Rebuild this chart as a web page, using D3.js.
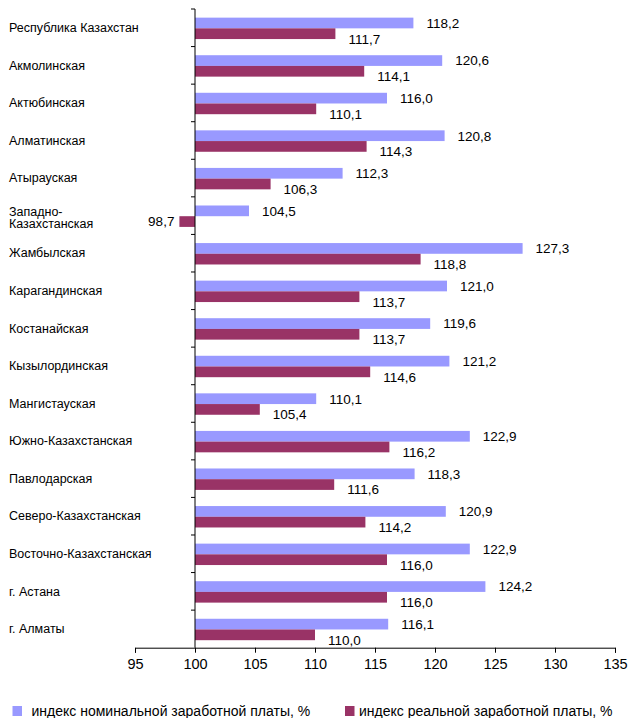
<!DOCTYPE html>
<html>
<head>
<meta charset="utf-8">
<script src="https://cdn.jsdelivr.net/npm/d3@7"></script>
<style>
  html, body { margin: 0; padding: 0; background: #fff; }
  svg { display: block; font-family: "Liberation Sans", Arial, sans-serif; }
</style>
</head>
<body>
<svg id="chart" width="636" height="718"></svg>
<script>
const categories = [
  "Республика Казахстан", "Акмолинская", "Актюбинская", "Алматинская", "Атырауская",
  "Западно-\nКазахстанская", "Жамбылская", "Карагандинская", "Костанайская",
  "Кызылординская", "Мангистауская", "Южно-Казахстанская", "Павлодарская",
  "Северо-Казахстанская", "Восточно-Казахстанская", "г. Астана", "г. Алматы"
];
const nominal = [118.2, 120.6, 116.0, 120.8, 112.3, 104.5, 127.3, 121.0, 119.6, 121.2, 110.1, 122.9, 118.3, 120.9, 122.9, 124.2, 116.1];
const real    = [111.7, 114.1, 110.1, 114.3, 106.3, 98.7, 118.8, 113.7, 113.7, 114.6, 105.4, 116.2, 111.6, 114.2, 116.0, 116.0, 110.0];
const seriesNames = ["индекс номинальной заработной платы, %", "индекс реальной заработной платы, %"];
const seriesColors = ["#9999FF", "#993366"];
const xTicks = [95, 100, 105, 110, 115, 120, 125, 130, 135];
const xDomain = [95, 135];
const baseValue = 100;

const svg = d3.select("#chart");
const x = d3.scaleLinear().domain(xDomain).range([135, 615]);
const y = d3.scaleBand().domain(categories.map((d, i) => i)).range([9, 647.7]).padding(0);
const sub = d3.scaleBand().domain([0, 1]).range([y.bandwidth() * 0.23, y.bandwidth() * 0.80]).padding(0);

const fmt = v => v.toFixed(1).replace(".", ",");
const data = categories.map((c, i) => ({ c, i, vals: [nominal[i], real[i]] }));

// bars
const g = svg.append("g");
data.forEach(d => {
  d.vals.forEach((v, s) => {
    const y0 = y(d.i) + sub(s);
    g.append("rect")
      .attr("x", x(Math.min(v, baseValue)))
      .attr("y", y0)
      .attr("width", Math.abs(x(v) - x(baseValue)))
      .attr("height", sub.bandwidth())
      .attr("fill", seriesColors[s]);
    const neg = v < baseValue;
    g.append("text")
      .attr("x", neg ? x(v) - 5 : x(v) + 13)
      .attr("y", y0 + sub.bandwidth() / 2 + (s === 1 && !neg ? 5 : 0))
      .attr("dy", "0.36em")
      .attr("text-anchor", neg ? "end" : "start")
      .attr("font-size", 13.5)
      .attr("fill", "#000")
      .text(fmt(v));
  });
});

// category labels
data.forEach(d => {
  const lines = d.c.split("\n");
  const cy = y(d.i) + y.bandwidth() / 2;
  const lh = 12.5;
  const t = svg.append("text")
    .attr("x", 9)
    .attr("font-size", 12.5)
    .attr("fill", "#000");
  lines.forEach((ln, k) => {
    t.append("tspan")
      .attr("x", 9)
      .attr("y", cy + (k - (lines.length - 1) / 2) * lh + (lines.length > 1 ? 2 : 0))
      .attr("dy", "0.34em")
      .text(ln);
  });
});

// vertical category axis at base value
svg.append("line")
  .attr("x1", x(baseValue)).attr("x2", x(baseValue))
  .attr("y1", y.range()[0]).attr("y2", y.range()[1])
  .attr("stroke", "#000").attr("stroke-width", 1);
const boundaries = categories.map((c, i) => y(i));
svg.selectAll(".ctick").data(boundaries).enter().append("line")
  .attr("x1", x(baseValue) - 4).attr("x2", x(baseValue))
  .attr("y1", d => d).attr("y2", d => d)
  .attr("stroke", "#000");

// x axis
const xAxis = d3.axisBottom(x).tickValues(xTicks).tickSize(5).tickPadding(6).tickFormat(d3.format("d"));
const xg = svg.append("g").attr("transform", `translate(0,${y.range()[1]})`).call(xAxis);
xg.select(".domain").attr("stroke", "#000");
xg.selectAll(".tick line").attr("stroke", "#000");
xg.selectAll(".tick text").attr("font-size", 14.5).attr("fill", "#000")
  .attr("font-family", "'Liberation Sans', Arial, sans-serif");

// legend
const legendX = [12.5, 345];
const legendTextX = [31.5, 359];
seriesNames.forEach((n, s) => {
  svg.append("rect").attr("x", legendX[s]).attr("y", 706).attr("width", 9.5).attr("height", 10)
    .attr("fill", seriesColors[s]);
  svg.append("text").attr("x", legendTextX[s]).attr("y", 716)
    .attr("font-size", 14).attr("fill", "#000").text(n);
});
</script>
</body>
</html>
